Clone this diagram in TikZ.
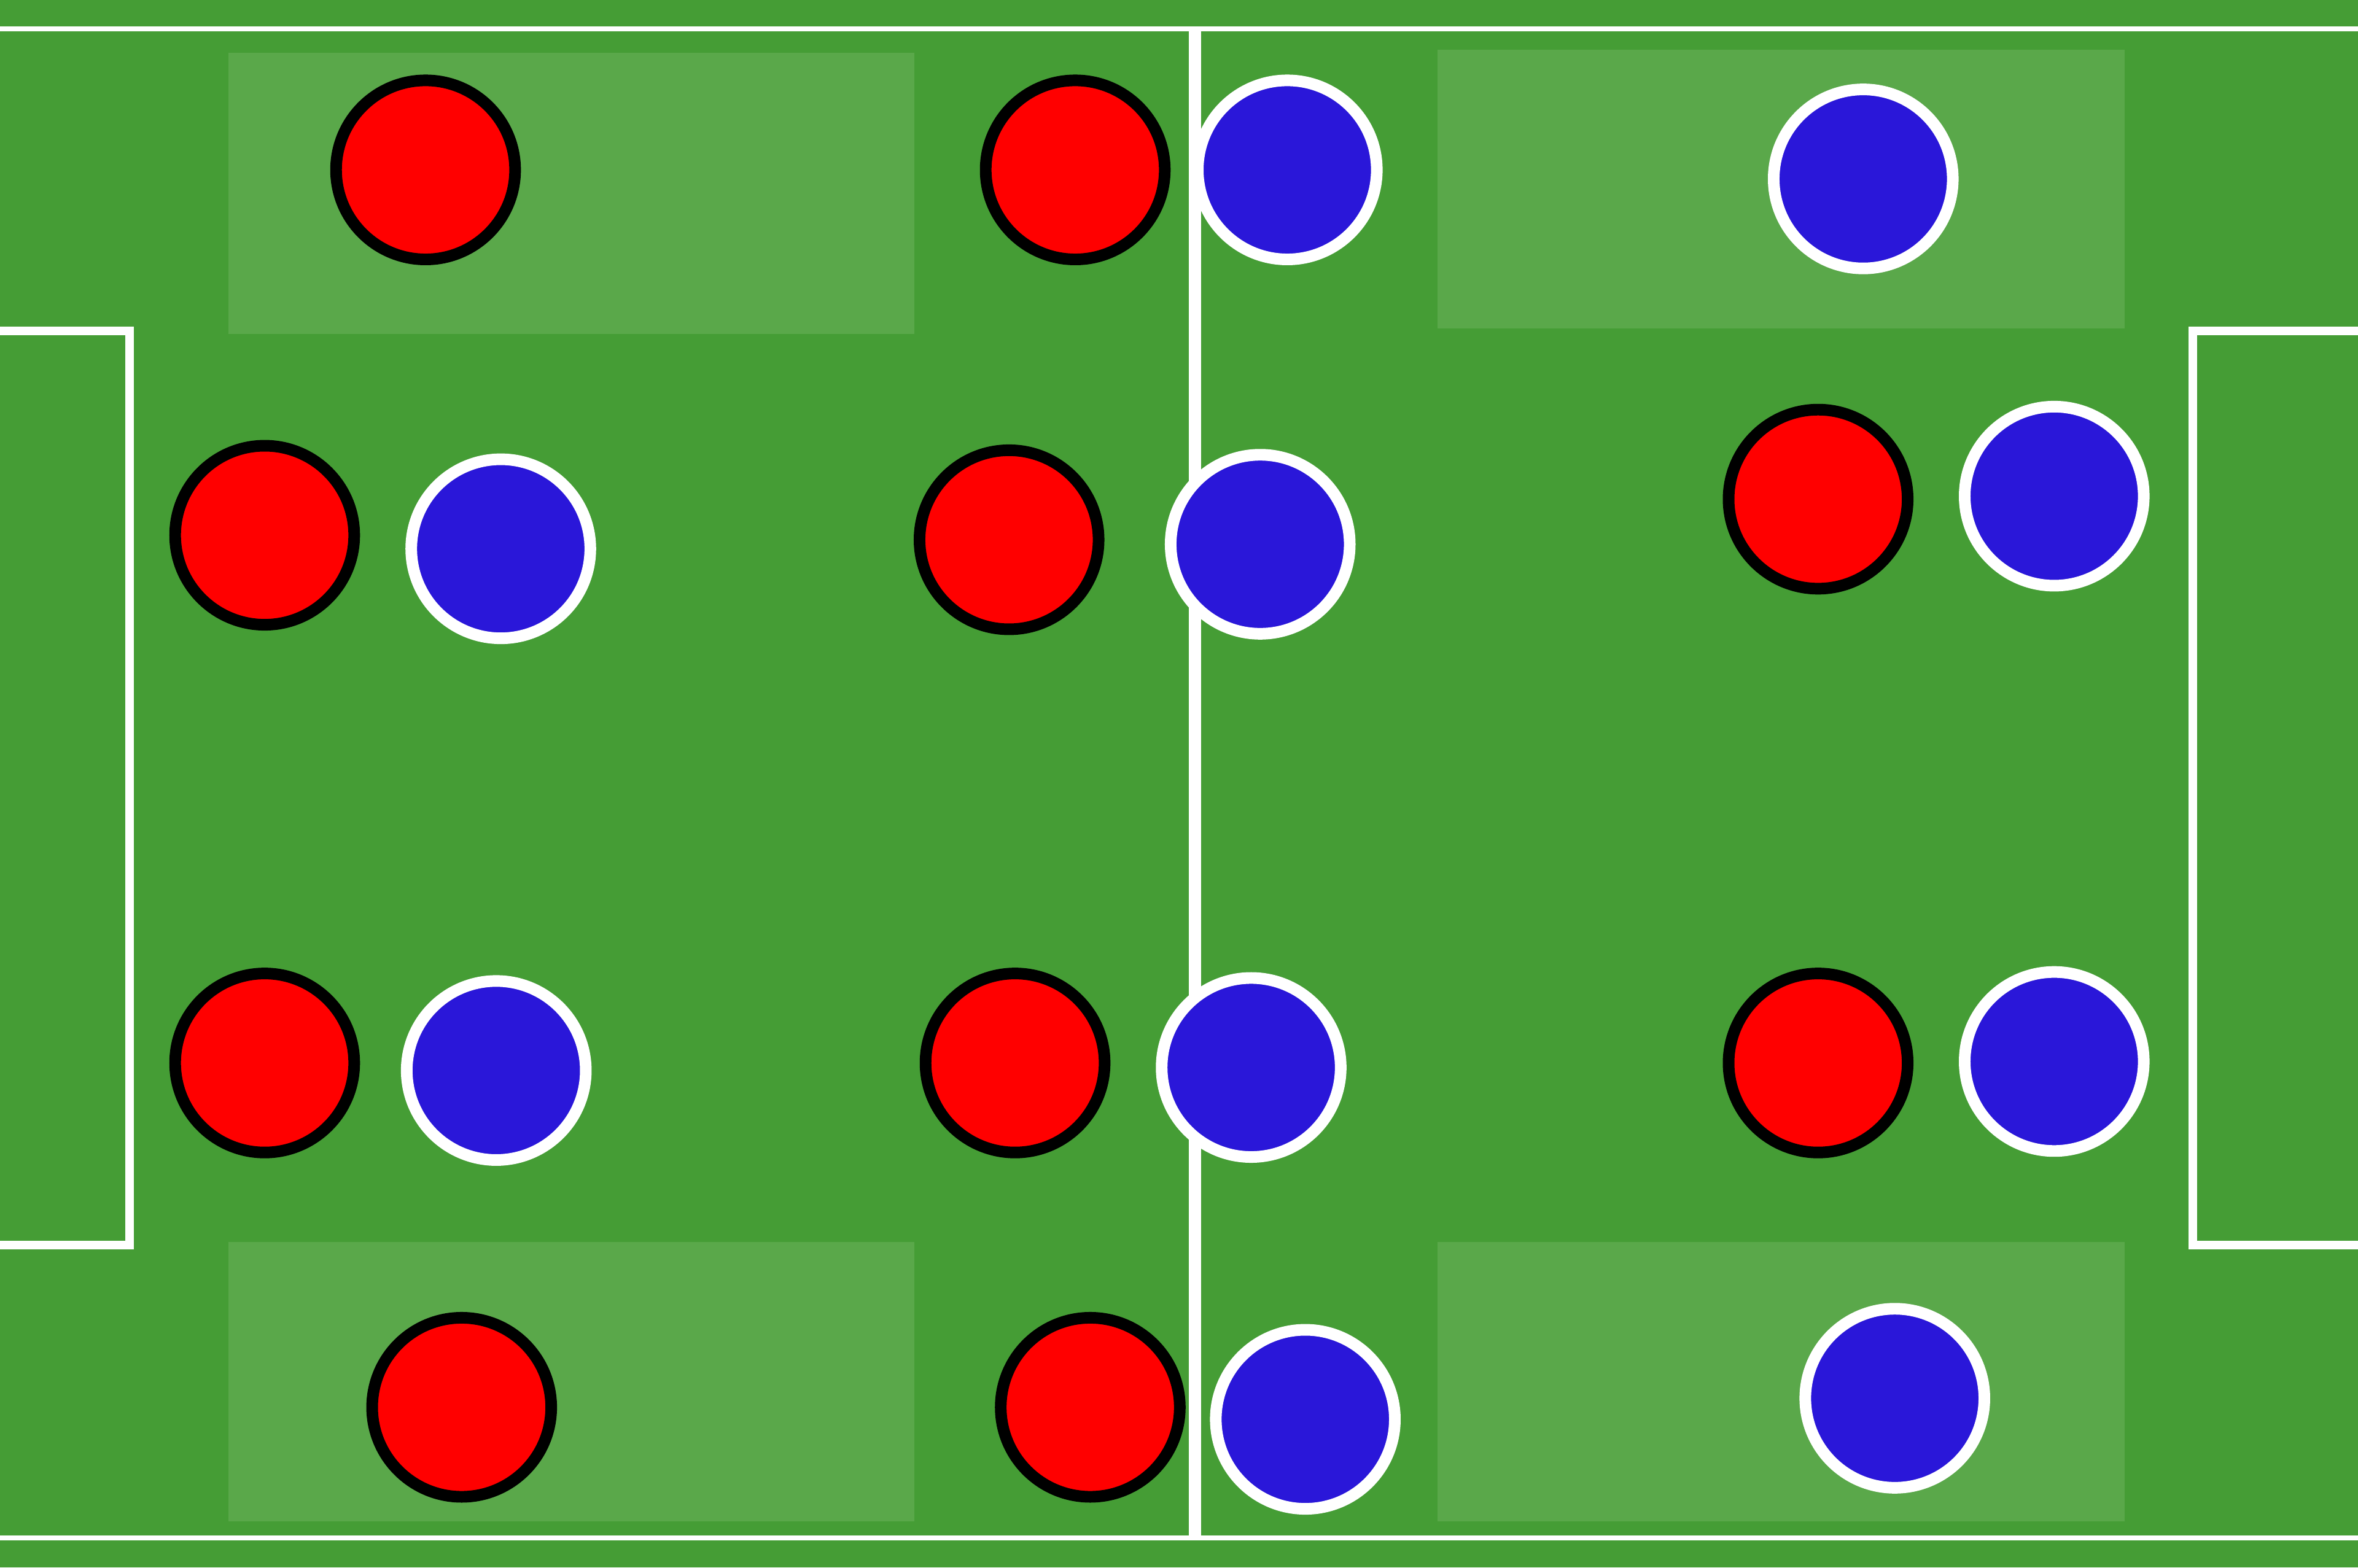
\documentclass[tikz,border=0pt]{standalone}
\definecolor{pitch}{HTML}{459D35}
\definecolor{zone}{HTML}{5AA84A}
\definecolor{homecol}{HTML}{FF0000}
\definecolor{awaycol}{HTML}{2A17D9}
\begin{document}
\begin{tikzpicture}[x=0.01cm,y=-0.01cm,
    home/.style={circle,inner sep=0pt,minimum size=1.19cm,line width=2.2pt,draw=black,fill=homecol},
    away/.style={circle,inner sep=0pt,minimum size=1.19cm,line width=2.2pt,draw=white,fill=awaycol},
    mark line/.style={white,line width=1.6pt}]
  \fill[pitch] (0,0) rectangle (1568,1042.5);
  \useasboundingbox (0,0) rectangle (1568,1042.5);
  % lighter zones
  \fill[zone] (152,35) rectangle (608,222);
  \fill[zone] (152,826) rectangle (608,1012);
  \fill[zone] (956,33) rectangle (1413,218.5);
  \fill[zone] (956,826) rectangle (1413,1012);
  % pitch markings
  \draw[white,line width=0.93pt] (0,19) -- (1568,19);
  \draw[white,line width=0.93pt] (0,1023) -- (1568,1023);
  \draw[white,line width=2.3pt] (794.5,19) -- (794.5,1023);
  \draw[mark line] (0,220) -- (86,220) -- (86,828) -- (0,828);
  \draw[mark line] (1568,220) -- (1458,220) -- (1458,828) -- (1568,828);
  % red team
  \draw
    (283,113) node[home] (r1){}
    (715,113) node[home] (r2){}
    (176,356) node[home] (r3){}
    (671,359) node[home] (r4){}
    (1209,332) node[home] (r5){}
    (176,707) node[home] (r6){}
    (675,707) node[home] (r7){}
    (1209,707) node[home] (r8){}
    (307,936) node[home] (r9){}
    (725,936) node[home] (r10){};
  % blue team
  \draw
    (856,113) node[away] (b1){}
    (1239,119) node[away] (b2){}
    (333,365) node[away] (b3){}
    (838,362) node[away] (b4){}
    (1366,330) node[away] (b5){}
    (330,712) node[away] (b6){}
    (832,710) node[away] (b7){}
    (1366,706) node[away] (b8){}
    (868,944) node[away] (b9){}
    (1260,930) node[away] (b10){};
\end{tikzpicture}
\end{document}
